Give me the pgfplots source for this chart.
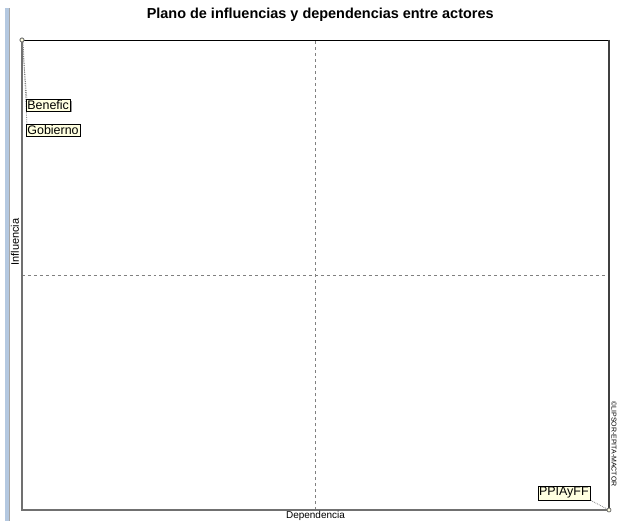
\documentclass[border=0pt]{standalone}
\usepackage{fontspec}
\setmainfont{Liberation Sans}
\usepackage{pgfplots}
\pgfplotsset{compat=1.18}
\usepackage{pgfplotstable}
\usetikzlibrary{calc,shadows}
\definecolor{tip}{HTML}{FFFFE1}
\definecolor{sidebar}{HTML}{B4C8E0}
\definecolor{axgray}{HTML}{707070}

% actors: dependencia, influencia
\pgfplotstableread{
x y label
0 1 Benefic
0 1 Gobierno
1 0 PPIAyFF
}\actors

\begin{document}
\begin{tikzpicture}[
    lbl/.style={draw=black, fill=tip, inner sep=1.2bp, font=\fontsize{12.5}{13}\selectfont,
                drop shadow={shadow xshift=1.5bp, shadow yshift=-1.5bp, fill=gray!80, opacity=1}},
    lead/.style={gray, densely dotted, line width=0.8bp}]
  \useasboundingbox (0,0) rectangle (618bp,521bp);
  % left side bar of the window
  \fill[sidebar] (5bp,0) rectangle (9bp,513bp);
  \draw[gray!70, line width=0.6bp] (9.3bp,0) -- (9.3bp,513bp);
  \begin{axis}[
      at={(22bp,11bp)}, anchor=south west,
      width=587bp, height=470bp, scale only axis,
      xmin=0, xmax=1, ymin=0, ymax=1,
      ticks=none,
      axis line style={draw=none},
      clip=false,
      title={\fontsize{14.5}{16}\selectfont\bfseries Plano de influencias y dependencias entre actores},
      title style={at={(0.508,1)}, anchor=south, yshift=9bp},
    ]
    % quadrant lines
    \draw[gray, dashed, line width=0.5bp] (axis cs:0.5,0) -- (axis cs:0.5,1);
    \draw[gray, dashed, line width=0.5bp] (axis cs:0,0.5) -- (axis cs:1,0.5);
    % frame
    \draw[black, line width=0.9bp] (rel axis cs:0,1) -- (rel axis cs:1,1);
    \draw[black!75, line width=1.2bp] (rel axis cs:1,1) -- (rel axis cs:1,0);
    \draw[axgray, line width=1.6bp] (rel axis cs:0,1) -- (rel axis cs:0,0) -- (rel axis cs:1,0);
    % leader lines and labels
    \draw[lead] (axis cs:0,1) -- ($(axis cs:0,1)+(5bp,-60bp)$);
    \draw[lead] ($(axis cs:0,1)+(1bp,0bp)$) -- ($(axis cs:0,1)+(5bp,-85bp)$);
    \draw[lead] (axis cs:1,0) -- ($(axis cs:1,0)+(-19bp,10bp)$);
    \node[lbl, anchor=west] at ($(axis cs:0,1)+(4bp,-65bp)$) {Benefic};
    \node[lbl, anchor=west] at ($(axis cs:0,1)+(4bp,-90bp)$) {Gobierno};
    \node[lbl, anchor=east] at ($(axis cs:1,0)+(-19bp,17bp)$) {PPIAyFF};
    \addplot[only marks, mark=*, mark size=2bp,
             mark options={draw=axgray, fill=tip, line width=0.8bp}]
      table[x=x, y=y] {\actors};
    % axis titles
    \node[font=\fontsize{10}{11}\selectfont, anchor=north, inner sep=0pt]
      at ($(rel axis cs:0.5,0)+(0bp,-1.5bp)$) {Dependencia};
    \node[font=\fontsize{11}{12}\selectfont, rotate=90, inner sep=0pt]
      at ($(rel axis cs:0,0.57)+(-7bp,0bp)$) {Influencia};
    \node[font=\fontsize{7}{8}\selectfont, rotate=-90, inner sep=0pt]
      at ($(rel axis cs:1,0)+(5bp,66bp)$) {©LIPSOR-EPITA-MACTOR};
  \end{axis}
\end{tikzpicture}
\end{document}
